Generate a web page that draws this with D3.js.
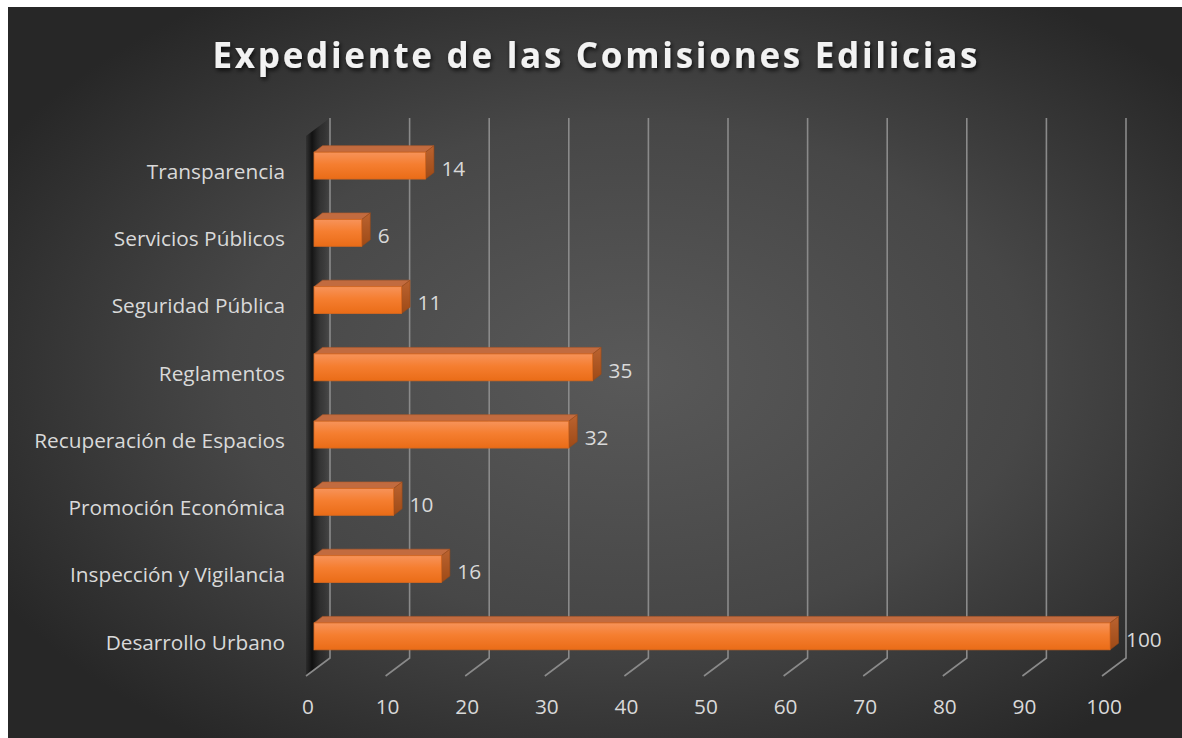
<!DOCTYPE html>
<html><head><meta charset="utf-8">
<script src="https://cdn.jsdelivr.net/npm/d3@7"></script>
<style>html,body{margin:0;padding:0;background:#fff;overflow:hidden}</style>
</head><body>
<svg id="c" width="1182" height="738"></svg>
<script>
const title = "Expediente de las Comisiones Edilicias";
const categories = ["Desarrollo Urbano","Inspección y Vigilancia","Promoción Económica","Recuperación de Espacios","Reglamentos","Seguridad Pública","Servicios Públicos","Transparencia"];
const values = [100,16,10,32,35,11,6,14];
const ticks = [0,10,20,30,40,50,60,70,80,90,100];

const svg = d3.select("#c");
const defs = svg.append("defs");

const bg = defs.append("radialGradient").attr("id","bg").attr("cx","0.53").attr("cy","0.5").attr("r","0.62");
bg.append("stop").attr("offset","0").attr("stop-color","#595959");
bg.append("stop").attr("offset","0.55").attr("stop-color","#474747");
bg.append("stop").attr("offset","1").attr("stop-color","#272727");

const fg = defs.append("linearGradient").attr("id","front").attr("x1",0).attr("y1",0).attr("x2",0).attr("y2",1);
fg.append("stop").attr("offset","0").attr("stop-color","#f7935a");
fg.append("stop").attr("offset","0.45").attr("stop-color","#f57e30");
fg.append("stop").attr("offset","1").attr("stop-color","#ea6c17");

const sg = defs.append("linearGradient").attr("id","side").attr("x1",0).attr("y1",0).attr("x2",0).attr("y2",1);
sg.append("stop").attr("offset","0").attr("stop-color","#bb6330");
sg.append("stop").attr("offset","1").attr("stop-color","#9e4a16");

const wg = defs.append("linearGradient").attr("id","wall").attr("x1",0).attr("y1",0).attr("x2",1).attr("y2",0);
wg.append("stop").attr("offset","0").attr("stop-color","#000").attr("stop-opacity","0.2");
wg.append("stop").attr("offset","0.25").attr("stop-color","#000").attr("stop-opacity","0.72");
wg.append("stop").attr("offset","0.6").attr("stop-color","#111").attr("stop-opacity","0.35");
wg.append("stop").attr("offset","1").attr("stop-color","#000").attr("stop-opacity","0");

const sh = defs.append("filter").attr("id","tsh").attr("x","-5%").attr("y","-30%").attr("width","110%").attr("height","160%");
sh.append("feDropShadow").attr("dx",1.5).attr("dy",2.5).attr("stdDeviation",2).attr("flood-color","#000").attr("flood-opacity",0.75);

svg.append("rect").attr("x",8).attr("y",7).attr("width",1174).attr("height",731).attr("fill","url(#bg)");

// 3D geometry
const DX = 24, DY = -18;           // full depth of the plot box
const BX = 8.5, BY = -6.5;         // bar depth
const OX = 8, OY = -6;             // bar front offset from floor front
const x = d3.scaleLinear().domain([0,100]).range([306,1102]);
const y = d3.scaleBand().domain(categories.slice().reverse()).range([138,676]).paddingInner(0.6).paddingOuter(0.3);
const floorY = 676, topY = 136;
const FONT = "'Open Sans', sans-serif";
const FS = 20.8;

// wall
svg.append("path").attr("d",`M${x(0)},${topY} L${x(0)+DX},${topY+DY} L${x(0)+DX},${floorY+DY} L${x(0)},${floorY} Z`)
  .attr("fill","url(#wall)");

// gridlines on back wall and floor
const grid = svg.append("g").attr("stroke","#8a8a8a").attr("stroke-width",1.6).attr("fill","none");
ticks.forEach(t=>{
  grid.append("path").attr("d",`M${x(t)+DX},${topY+DY} L${x(t)+DX},${floorY+DY} L${x(t)},${floorY}`);
});

// tick labels
svg.append("g").selectAll("text").data(ticks).join("text")
  .attr("x",d=>x(d)+2).attr("y",707).attr("dy","0.35em").attr("text-anchor","middle")
  .attr("font-family",FONT).attr("font-size",FS).attr("fill","#d9d9d9")
  .text(d=>d);

// category labels
svg.append("g").selectAll("text").data(categories).join("text")
  .attr("x",285).attr("y",d=>y(d)+y.bandwidth()/2).attr("dy","0.35em").attr("text-anchor","end")
  .attr("font-family",FONT).attr("font-size",FS).attr("fill","#d9d9d9")
  .text(d=>d);

// bars
const bars = svg.append("g").selectAll("g").data(categories.map((c,i)=>({c,v:values[i]}))).join("g");
bars.each(function(d){
  const g = d3.select(this);
  const x0 = x(0)+OX, x1 = x(d.v)+OX;
  const y0 = y(d.c)+OY, y1 = y0 + y.bandwidth();
  g.append("path").attr("d",`M${x0},${y0} L${x0+BX},${y0+BY} L${x1+BX},${y0+BY} L${x1},${y0} Z`)
    .attr("fill","#c26b3f").attr("stroke","#b25a2a").attr("stroke-width",0.6);
  g.append("path").attr("d",`M${x1},${y0} L${x1+BX},${y0+BY} L${x1+BX},${y1+BY} L${x1},${y1} Z`)
    .attr("fill","url(#side)").attr("stroke","#9a4815").attr("stroke-width",0.6);
  g.append("rect").attr("x",x0).attr("y",y0).attr("width",x1-x0).attr("height",y1-y0)
    .attr("fill","url(#front)").attr("stroke","#d8681f").attr("stroke-width",0.8);
  g.append("text").attr("x",x1+16).attr("y",(y0+y1)/2+3).attr("dy","0.35em")
    .attr("font-family",FONT).attr("font-size",FS).attr("fill","#d9d9d9")
    .text(d.v);
});

// title
svg.append("text").attr("x",595).attr("y",68).attr("text-anchor","middle")
  .attr("font-family",FONT).attr("font-weight","bold").attr("font-size",35)
  .attr("fill","#f2f2f2").attr("filter","url(#tsh)")
  .attr("textLength",765).attr("lengthAdjust","spacing")
  .text(title);
</script>
</body></html>
